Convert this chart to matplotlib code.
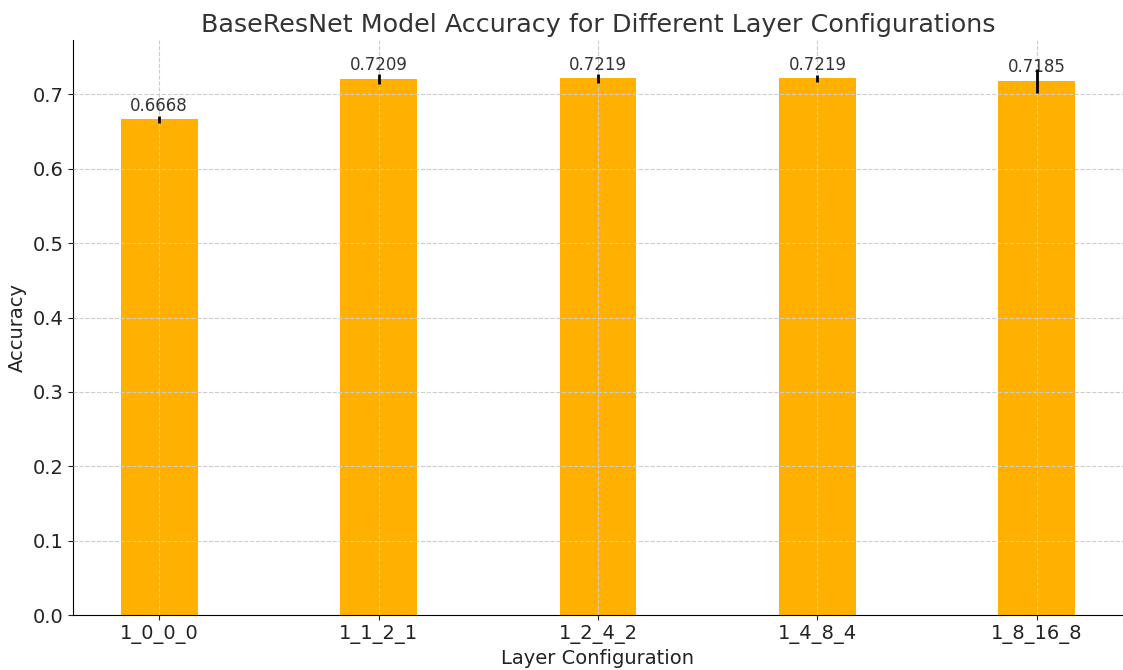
import matplotlib.pyplot as plt
import numpy as np

# Accuracy per layer configuration (mean and std)
configs = ['1_0_0_0', '1_1_2_1', '1_2_4_2', '1_4_8_4', '1_8_16_8']
accuracy = [0.6668, 0.7209, 0.7219, 0.7219, 0.7185]
std_dev = [0.0045, 0.0065, 0.006, 0.0045, 0.016]

text_color = '#333333'

fig, ax = plt.subplots(figsize=(11.23, 6.7), dpi=100)
x = np.arange(len(configs))
bars = ax.bar(x, accuracy, width=0.35, color='#FFB000', yerr=std_dev,
              error_kw=dict(ecolor='black', elinewidth=2, capsize=0, zorder=4))

for xi, acc in zip(x, accuracy):
    ax.text(xi, acc + 0.006, f'{acc:.4f}', ha='center', va='bottom',
            fontsize=12, color=text_color)

ax.set_xticks(x)
ax.set_xticklabels(configs)
ax.set_ylim(0, 0.773)
ax.set_title('BaseResNet Model Accuracy for Different Layer Configurations',
             fontsize=18.3, color=text_color)
ax.set_xlabel('Layer Configuration', fontsize=14, color='#222222')
ax.set_ylabel('Accuracy', fontsize=14, color='#222222')
ax.tick_params(labelsize=14, colors='#222222')
ax.grid(True, linestyle='--', color='#cccccc', linewidth=0.8, zorder=3)
ax.set_axisbelow(False)
ax.spines['top'].set_visible(False)
ax.spines['right'].set_visible(False)

plt.subplots_adjust(left=0.065, right=1.0, top=0.94, bottom=0.082)
fig.savefig('out.png')
